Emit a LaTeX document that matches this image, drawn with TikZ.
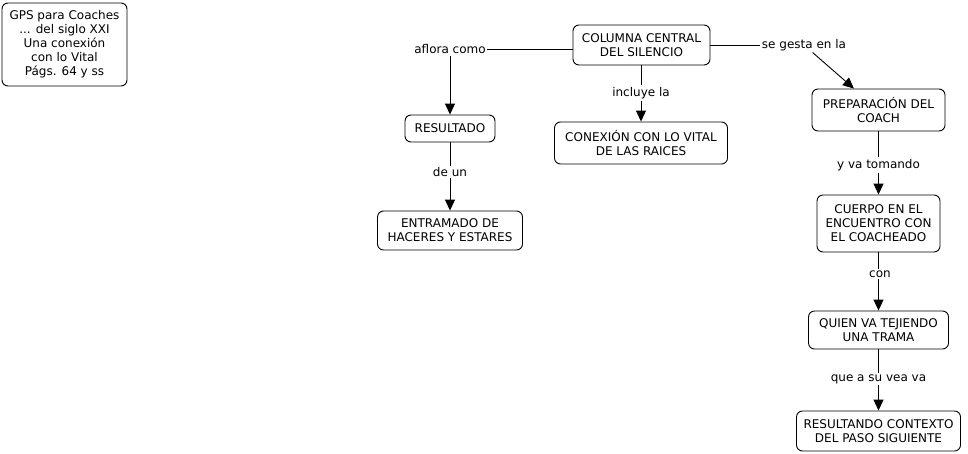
\documentclass[tikz,border=0pt]{standalone}
\usepackage{fontspec}
\setmainfont{DejaVu Sans}
\usetikzlibrary{arrows.meta}

\begin{document}
\begin{tikzpicture}[x=1pt, y=-1pt, font=\fontsize{12}{14}\selectfont]
  \tikzset{box/.style={draw, rounded corners=6pt, align=center, inner sep=1pt, line width=0.9pt},
           lbl/.style={inner sep=1.5pt, align=center},
           link/.style={line width=0.9pt},
           arr/.style={link, -{Triangle[length=11pt, width=10pt]}}}

  \useasboundingbox (0,0) rectangle (968,453);

  % concepts
  \node[box, minimum width=125pt, minimum height=83pt] (gps) at (64.5,44.5) {GPS para Coaches\\... del siglo XXI\\Una conexión\\con lo Vital\\Págs. 64 y ss};
  \node[box, minimum width=137pt, minimum height=40pt] (columna) at (641.5,45) {COLUMNA CENTRAL\\DEL SILENCIO};
  \node[box, minimum width=90pt, minimum height=27pt] (resultado) at (450,128.5) {RESULTADO};
  \node[box, minimum width=173pt, minimum height=42pt] (conexion) at (641,143) {CONEXIÓN CON LO VITAL\\DE LAS RAICES};
  \node[box, minimum width=145pt, minimum height=39pt] (entramado) at (450,230.5) {ENTRAMADO DE\\HACERES Y ESTARES};
  \node[box, minimum width=133pt, minimum height=42pt] (prep) at (878.5,110) {PREPARACIÓN DEL\\COACH};
  \node[box, minimum width=123pt, minimum height=57pt] (cuerpo) at (878.5,223.5) {CUERPO EN EL\\ENCUENTRO CON\\EL COACHEADO};
  \node[box, minimum width=140pt, minimum height=38pt] (quien) at (878.5,330) {QUIEN VA TEJIENDO\\UNA TRAMA};
  \node[box, minimum width=164pt, minimum height=40pt] (contexto) at (878.5,431) {RESULTANDO CONTEXTO\\DEL PASO SIGUIENTE};

  % linking phrases
  \node[lbl] (aflora) at (450,49.5) {aflora como};
  \node[lbl] (incluye) at (641,93) {incluye la};
  \node[lbl] (gesta) at (804,45) {se gesta en la};
  \node[lbl] (deun) at (450,172) {de un};
  \node[lbl] (tomando) at (878.5,165) {y va tomando};
  \node[lbl] (con) at (880,274) {con};
  \node[lbl] (vea) at (878.5,379) {que a su vea va};

  % connectors
  \draw[link] (columna.west |- aflora.east) -- (aflora.east);
  \draw[arr] (aflora.south) -- (resultado.north);
  \draw[link] (incluye.north |- columna.south) -- (incluye.north);
  \draw[arr] (incluye.south) -- (conexion.north);
  \draw[link] (columna.east) -- (gesta.west);
  \draw[arr] (gesta) -- (prep);
  \draw[link] (resultado.south) -- (deun.north);
  \draw[arr] (deun.south) -- (entramado.north);
  \draw[link] (prep.south) -- (tomando.north);
  \draw[arr] (tomando.south) -- (cuerpo.north);
  \draw[link] (cuerpo.south) -- (cuerpo.south |- con.north);
  \draw[arr] (cuerpo.south |- con.south) -- (quien.north);
  \draw[link] (quien.south) -- (vea.north);
  \draw[arr] (vea.south) -- (contexto.north);
\end{tikzpicture}
\end{document}
